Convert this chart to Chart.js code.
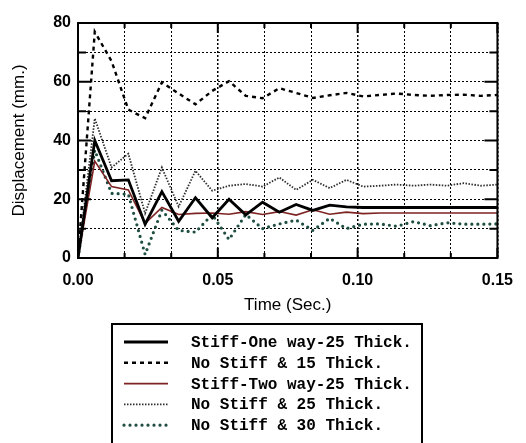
<!DOCTYPE html>
<html>
<head>
<meta charset="utf-8">
<script src="https://cdn.jsdelivr.net/npm/chart.js@4.4.1/dist/chart.umd.min.js"></script>
<style>
  html, body { margin: 0; padding: 0; background: #fff; }
  #wrap { width: 526px; height: 443px; }
</style>
</head>
<body>
<div id="wrap"><canvas id="dispChart" width="526" height="443"></canvas></div>
<script>
// time samples (sec.)
var time = [0, 0.006, 0.012, 0.018, 0.024, 0.030, 0.036, 0.042, 0.048, 0.054,
            0.060, 0.066, 0.072, 0.078, 0.084, 0.090, 0.096, 0.102, 0.108, 0.114,
            0.120, 0.126, 0.132, 0.138, 0.144, 0.150];

// displacement (mm.)
var stiffOneWay25 = [0, 40, 26.3, 26.6, 11.5, 22.6, 12.5, 20.5, 13.7, 20,
                     14.7, 19, 15.6, 18.2, 16.2, 18, 17.4, 17.2, 17.2, 17.2,
                     17.2, 17.2, 17.2, 17.2, 17.2, 17.2];
var noStiff15 = [0, 77, 67, 50.5, 47.6, 59.8, 56, 52.3, 56.9, 60.2,
                 55.2, 54.4, 57.8, 56.2, 54.5, 55.4, 56.2, 55, 55.5, 56,
                 55.5, 55.2, 55.5, 55.6, 55.2, 55.5];
var stiffTwoWay25 = [0, 33, 24.3, 23.2, 11.8, 17.2, 14.8, 15.2, 15.3, 14.9,
                     15.8, 14.8, 15.8, 14.6, 16.4, 14.9, 15.6, 15.1, 15.3, 15.3,
                     15.3, 15.3, 15.3, 15.3, 15.3, 15.3];
var noStiff25 = [0, 47.5, 30.8, 35.5, 15.2, 30.8, 17.5, 29.7, 22.9, 24.6,
                 25.2, 24.3, 27.4, 23.2, 26.6, 23.8, 26.6, 24.3, 24.6, 25,
                 24.6, 25, 24.6, 25.5, 24.6, 25];
var noStiff30 = [0, 36.7, 22, 21.7, 1.2, 16.3, 9.4, 8.8, 14.8, 6.3,
                 14.8, 10, 11.6, 12.9, 9.4, 13.5, 10, 11.5, 11.6, 10.8,
                 12.4, 11, 12, 11.5, 11.5, 11.6];

var seriesNames = ["Stiff-One way-25 Thick.", "No Stiff & 15 Thick.", "Stiff-Two way-25 Thick.",
                   "No Stiff & 25 Thick.", "No Stiff & 30 Thick."];

// x grid every 1/60 sec, labelled every 0.05
var xGrid = [0, 0.05 / 3, 0.1 / 3, 0.05, 0.2 / 3, 0.25 / 3, 0.10, 0.35 / 3, 0.4 / 3, 0.15];

// inward tick marks + solid frame around the plot
var frameTicks = {
  id: "frameTicks",
  afterDatasetsDraw: function (chart) {
    var ctx = chart.ctx, a = chart.chartArea;
    var xs = chart.scales.x, ys = chart.scales.y;
    ctx.save();
    ctx.strokeStyle = "#000";
    ctx.lineWidth = 2;
    ctx.setLineDash([]);
    ctx.beginPath();
    ys.ticks.forEach(function (t) {
      var py = ys.getPixelForValue(t.value);
      var len = t.value % 20 === 0 ? 13 : 8;
      ctx.moveTo(a.left, py); ctx.lineTo(a.left + len, py);
      ctx.moveTo(a.right, py); ctx.lineTo(a.right - len, py);
    });
    xs.ticks.forEach(function (t, i) {
      var px = xs.getPixelForValue(t.value);
      var len = i % 3 === 0 ? 10 : 5;
      ctx.moveTo(px, a.bottom); ctx.lineTo(px, a.bottom - len);
      ctx.moveTo(px, a.top); ctx.lineTo(px, a.top + len);
    });
    ctx.stroke();
    ctx.strokeRect(a.left, a.top, a.right - a.left, a.bottom - a.top);
    ctx.restore();
  }
};

// boxed legend, one series per row
var boxLegend = {
  id: "boxLegend",
  afterDraw: function (chart) {
    var ctx = chart.ctx;
    var boxL = 112, boxT = 324, boxR = 422, rowH = 20.8;
    ctx.save();
    ctx.strokeStyle = "#000";
    ctx.lineWidth = 2;
    ctx.setLineDash([]);
    ctx.strokeRect(boxL, boxT, boxR - boxL, 130);
    ctx.font = "bold 16px 'Liberation Mono', monospace";
    ctx.textBaseline = "middle";
    ctx.textAlign = "left";
    chart.data.datasets.forEach(function (ds, i) {
      var cy = boxT + 18 + i * rowH;
      ctx.strokeStyle = ds.borderColor;
      ctx.lineWidth = ds.borderWidth;
      ctx.lineCap = ds.borderCapStyle || "butt";
      ctx.setLineDash(ds.borderDash || []);
      ctx.beginPath();
      ctx.moveTo(124, cy);
      ctx.lineTo(168, cy);
      ctx.stroke();
      ctx.fillStyle = "#000";
      ctx.fillText(ds.label, 191, cy + 1);
    });
    ctx.restore();
  }
};

new Chart(document.getElementById("dispChart").getContext("2d"), {
  type: "line",
  data: {
    labels: time,
    datasets: [
      {
        label: seriesNames[0],
        data: stiffOneWay25,
        borderColor: "#000000",
        borderWidth: 2.8,
        borderDash: [],
      },
      {
        label: seriesNames[1],
        data: noStiff15,
        borderColor: "#000000",
        borderWidth: 2.4,
        borderDash: [4, 4],
      },
      {
        label: seriesNames[2],
        data: stiffTwoWay25,
        borderColor: "#7d2323",
        borderWidth: 1.6,
        borderDash: [],
      },
      {
        label: seriesNames[3],
        data: noStiff25,
        borderColor: "#2e2e2e",
        borderWidth: 1.8,
        borderDash: [1.5, 1.5],
      },
      {
        label: seriesNames[4],
        data: noStiff30,
        borderColor: "#1f4f43",
        borderWidth: 3.2,
        borderDash: [0, 6],
        borderCapStyle: "round",
      },
    ],
  },
  options: {
    responsive: false,
    animation: false,
    events: [],
    elements: {
      point: { radius: 0 },
      line: { tension: 0, fill: false, borderJoinStyle: "miter" },
    },
    layout: {
      padding: { left: 0, right: 23, top: 23, bottom: 127 },
    },
    plugins: {
      legend: { display: false },
      tooltip: { enabled: false },
    },
    scales: {
      x: {
        type: "linear",
        min: 0,
        max: 0.15,
        afterBuildTicks: function (scale) {
          scale.ticks = xGrid.map(function (v) { return { value: v }; });
        },
        afterFit: function (scale) { scale.height = 58; },
        grid: {
          color: "#000",
          lineWidth: function (c) { return c.index % 3 === 0 ? 1.5 : 1; },
          drawTicks: false,
        },
        border: { display: false, dash: [2, 2] },
        ticks: {
          color: "#000",
          padding: 13,
          maxRotation: 0,
          autoSkip: false,
          font: { family: "'Liberation Sans', Arial", size: 16, weight: "bold" },
          callback: function (value, index) {
            return index % 3 === 0 ? value.toFixed(2) : "";
          },
        },
        title: {
          display: true,
          text: "Time (Sec.)",
          color: "#000",
          font: { family: "'Liberation Sans', Arial", size: 17 },
          padding: { top: 0, bottom: 0 },
        },
      },
      y: {
        min: 0,
        max: 80,
        afterFit: function (scale) { scale.width = 78; },
        grid: { color: "#000", lineWidth: 1, drawTicks: false },
        border: { display: false, dash: [2, 2] },
        ticks: {
          stepSize: 10,
          color: "#000",
          padding: 7,
          font: { family: "'Liberation Sans', Arial", size: 16, weight: "bold" },
          callback: function (value) {
            return value % 20 === 0 ? value : "";
          },
        },
        title: {
          display: true,
          text: "Displacement (mm.)",
          color: "#000",
          font: { family: "'Liberation Sans', Arial", size: 17 },
          padding: { top: 9, bottom: 0 },
        },
      },
    },
  },
  plugins: [frameTicks, boxLegend],
});
</script>
</body>
</html>
